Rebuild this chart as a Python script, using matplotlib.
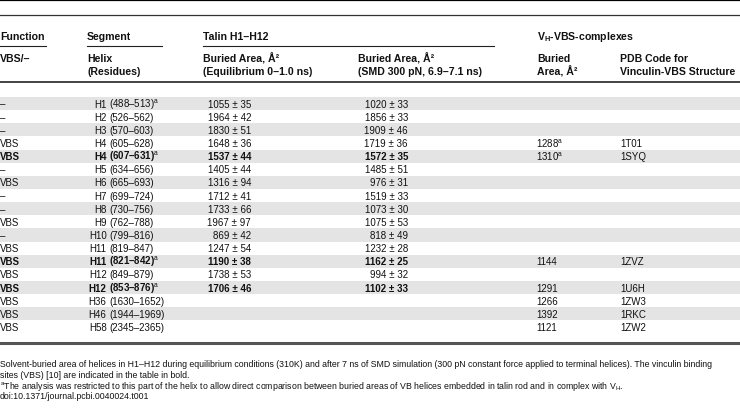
import matplotlib.pyplot as plt

# table content
func = ["–", "–", "–", "VBS", "VBS", "–", "VBS", "–", "–", "VBS", "–", "VBS", "VBS", "VBS", "VBS", "VBS", "VBS", "VBS"]
helix = ["H1", "H2", "H3", "H4", "H4", "H5", "H6", "H7", "H8", "H9", "H10", "H11", "H11", "H12", "H12", "H36", "H46", "H58"]
residues = ["488–513", "526–562", "570–603", "605–628", "607–631", "634–656", "665–693", "699–724", "730–756",
            "762–788", "799–816", "819–847", "821–842", "849–879", "853–876", "1630–1652", "1944–1969", "2345–2365"]
eq_area = [1055, 1964, 1830, 1648, 1537, 1405, 1316, 1712, 1733, 1967, 869, 1247, 1190, 1738, 1706]
eq_sd = [35, 42, 51, 36, 44, 44, 94, 41, 66, 97, 42, 54, 38, 53, 46]
smd_area = [1020, 1856, 1909, 1719, 1572, 1485, 976, 1519, 1073, 1075, 818, 1232, 1162, 994, 1102]
smd_sd = [33, 33, 46, 36, 35, 51, 31, 33, 30, 53, 49, 28, 25, 32, 33]
vh_area = ["", "", "", "1288", "1310", "", "", "", "", "", "", "", "1144", "", "1291", "1266", "1392", "1121"]
vh_note = [3, 4]
pdb = ["", "", "", "1T01", "1SYQ", "", "", "", "", "", "", "", "1ZVZ", "", "1U6H", "1ZW3", "1RKC", "1ZW2"]
bold_rows = [4, 12, 14]
helix_note = [0, 4, 12, 14]

caption = [
    "Solvent-buried area of helices in H1–H12 during equilibrium conditions (310K) and after 7 ns of SMD simulation "
    "(300 pN constant force applied to terminal helices). The vinculin binding",
    "sites (VBS) [10] are indicated in the table in bold.",
    r"$^{\mathrm{a}}$The analysis was restricted to this part of the helix to allow direct comparison between buried "
    r"areas of VB helices embedded in talin rod and in complex with V$_{\mathrm{H}}$.",
    "doi:10.1371/journal.pcbi.0040024.t001",
]

plt.rcParams['font.family'] = ['Liberation Sans', 'DejaVu Sans']
plt.rcParams['mathtext.fontset'] = 'custom'
plt.rcParams['mathtext.rm'] = 'Liberation Sans'
plt.rcParams['mathtext.bf'] = 'Liberation Sans:bold'
narrow = ['Liberation Sans Narrow', 'Liberation Sans']

fig = plt.figure(figsize=(7.4, 4.1), dpi=100)
ax = fig.add_axes([0, 0, 1, 1])
ax.set_xlim(0, 740)
ax.set_ylim(410, 0)
ax.axis('off')

txt = '#111111'
fs = 7
hfs = 7.6

# rules
ax.plot([0, 740], [1, 1], color='black', lw=1.6)
ax.plot([0, 740], [16, 16], color='#333333', lw=0.9)
ax.plot([0, 740], [83, 83], color='#222222', lw=1.2)
ax.plot([0, 46], [47, 47], color='#222222', lw=0.8)
ax.plot([87, 162], [47, 47], color='#222222', lw=0.8)
ax.plot([203, 494], [47, 47], color='#222222', lw=0.8)
ax.plot([0, 740], [344, 344], color='#555555', lw=2.2)

# header
hd = dict(fontsize=hfs, fontweight='bold', color=txt, va='center', ha='left')
ax.text(0, 37, "Function", **hd)
ax.text(87, 37, "Segment", **hd)
ax.text(203, 37, "Talin H1–H12", **hd)
ax.text(537, 37, r"V$_{\mathbf{H}}$-VBS-complexes", **hd)
ax.text(0, 59, "VBS/–", **hd)
ax.text(87, 59, "Helix", **hd)
ax.text(87, 72, "(Residues)", **hd)
ax.text(203, 59, "Buried Area, Å²", **hd)
ax.text(203, 72, "(Equilibrium 0–1.0 ns)", **hd)
ax.text(358, 59, "Buried Area, Å²", **hd)
ax.text(358, 72, "(SMD 300 pN, 6.9–7.1 ns)", **hd)
ax.text(537, 59, "Buried", **hd)
ax.text(537, 72, "Area, Å²", **hd)
ax.text(620, 59, "PDB Code for", **hd)
ax.text(620, 72, "Vinculin-VBS Structure", **hd)

# body rows
y0 = 104.5
dy = 13.15
for i in range(len(helix)):
    y = y0 + i * dy
    if i % 2 == 0:
        ax.fill_between([0, 740], y - dy / 2, y + dy / 2, color='#e4e4e4', lw=0)
    w = 'bold' if i in bold_rows else 'normal'
    kw = dict(fontsize=fs, fontweight=w, color=txt, va='center')
    ax.text(0, y, func[i], ha='left', **kw)
    ax.text(106.5, y, helix[i], ha='right', **kw)
    res = "(" + residues[i] + ")"
    if i in helix_note:
        res += r"$^{\mathrm{a}}$"
    ax.text(109, y, res, ha='left', **kw)
    if i < len(eq_area):
        ax.text(251, y, f"{eq_area[i]} ± {eq_sd[i]}", ha='right', **kw)
        ax.text(408, y, f"{smd_area[i]} ± {smd_sd[i]}", ha='right', **kw)
    vh = vh_area[i] + (r"$^{\mathrm{a}}$" if i in vh_note else "")
    ax.text(536, y, vh, ha='left', fontsize=fs, color=txt, va='center')
    ax.text(620, y, pdb[i], ha='left', fontsize=fs, color=txt, va='center')

# caption
cap_y = [365, 376, 387, 397]
for y, line in zip(cap_y, caption):
    ax.text(0, y, line, fontsize=6.35, family=narrow, color=txt, va='center', ha='left')

fig.savefig("out.png", dpi=100)
